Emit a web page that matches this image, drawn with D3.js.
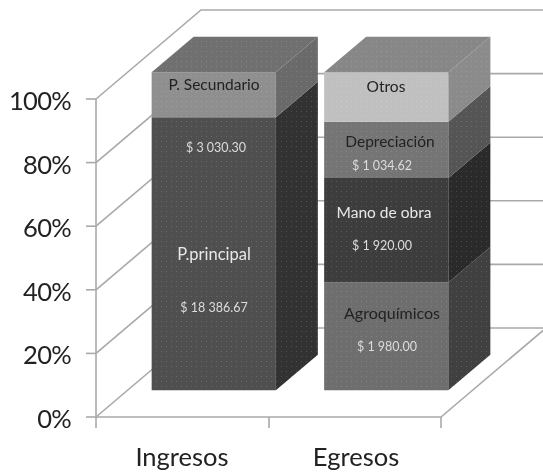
<!DOCTYPE html>
<html>
<head>
<meta charset="utf-8">
<script src="https://cdn.jsdelivr.net/npm/d3@7"></script>
<style>
html, body { margin: 0; padding: 0; background: #fff; }
svg { display: block; }
text { font-family: Lato, "Open Sans", sans-serif; }
</style>
</head>
<body>
<div id="container"></div>
<script>
const width = 543;
const height = 474;

// values
const categories = ["Ingresos", "Egresos"];
const segments = ["P.principal", "P. Secundario", "Agroquímicos", "Mano de obra", "Depreciación", "Otros"];
const ingresos = [18386.67, 3030.30, 0, 0, 0, 0];
const egresos = [0, 0, 1980.00, 1920.00, 1034.62, 910];
const yTicks = [0, 0.2, 0.4, 0.6, 0.8, 1];

// grey of each segment: front, side
const frontColors = ["#4f4f4f", "#8f8f8f", "#6e6e6e", "#3e3e3e", "#757575", "#c0c0c0"];
const sideColors = ["#333333", "#6a6a6a", "#3f3f3f", "#2b2b2b", "#555555", "#8b8b8b"];
const topColors = ["#6f6f6f", "#878787"];

// name and amount labels, placed in pixels
const nameLabels = [
	{ text: "P. Secundario", x: 214, y: 90, fill: "#222", size: 15.5 },
	{ text: "P.principal", x: 214, y: 260, fill: "#e8e8e8", size: 16.5 },
	{ text: "Otros", x: 386, y: 92, fill: "#222", size: 15.5 },
	{ text: "Depreciación", x: 390, y: 147, fill: "#222", size: 15.5 },
	{ text: "Mano de obra", x: 384, y: 218, fill: "#e8e8e8", size: 15.5 },
	{ text: "Agroquímicos", x: 392, y: 319, fill: "#222", size: 16 }
];
const amountLabels = [
	{ text: "$ 3 030.30", x: 216, y: 152 },
	{ text: "$ 18 386.67", x: 214, y: 312 },
	{ text: "$ 1 034.62", x: 382, y: 170 },
	{ text: "$ 1 920.00", x: 382, y: 250 },
	{ text: "$ 1 980.00", x: 387, y: 351 }
];

const table = categories.map(function(c, i) {
	const row = { category: c };
	segments.forEach(function(s, j) {
		row[s] = (i === 0 ? ingresos : egresos)[j];
	});
	return row;
});

const stacked = d3.stack().keys(segments).offset(d3.stackOffsetExpand)(table);

const x = d3.scaleBand().domain(categories).range([96, 441]).paddingInner(0.28).paddingOuter(0.14);
const y = d3.scaleLinear().domain([0, 1]).range([417, 99]);

// depth into the box: 0 = front edge, 1 = back wall
const depthX = d3.scaleLinear().domain([0, 1]).range([0, 105]);
const depthY = d3.scaleLinear().domain([0, 1]).range([0, -89]);
const barFront = 0.3;
const barBack = 0.7;

function pt(px, value, depth) {
	return [px + depthX(depth), y(value) + depthY(depth)];
}
function poly(points) {
	return "M" + points.map(function(p) { return p.join(","); }).join("L") + "Z";
}

const svg = d3.select("#container")
	.append("svg")
	.attr("width", width)
	.attr("height", height);

// the reference is a soft scan with a fine dot texture on the bars
const defs = svg.append("defs");
defs.append("filter").attr("id", "soft")
	.attr("x", 0).attr("y", 0).attr("width", "100%").attr("height", "100%")
	.append("feGaussianBlur").attr("stdDeviation", 0.4);
const dots = defs.append("pattern").attr("id", "dots")
	.attr("width", 5).attr("height", 5)
	.attr("patternUnits", "userSpaceOnUse");
dots.append("rect").attr("x", 1).attr("y", 1).attr("width", 1).attr("height", 1)
	.attr("fill", "#fff").attr("opacity", 0.14);

const root = svg.append("g").attr("filter", "url(#soft)");
root.append("rect").attr("width", width).attr("height", height).attr("fill", "#fff");

const gridColor = "#a9a9a9";
const walls = root.append("g")
	.attr("fill", "none")
	.attr("stroke", gridColor)
	.attr("stroke-width", 1.6);

// left wall, back wall
yTicks.forEach(function(t) {
	const a = pt(96, t, 0);
	const b = pt(96, t, 1);
	walls.append("path").attr("d", d3.line()([a, b, [width + 2, b[1]]]));
	walls.append("path").attr("d", d3.line()([[86, a[1]], a]));
});
walls.append("path").attr("d", d3.line()([pt(96, 1, 0), pt(96, 0, 0)]));

// floor
walls.append("path").attr("d", d3.line()([pt(96, 0, 0), pt(441, 0, 0), pt(441, 0, 1)]));
[96, 269, 441].forEach(function(px) {
	walls.append("path").attr("d", d3.line()([[px, y(0)], [px, y(0) + 11]]));
});

// bars, bottom segment first so the upper side faces sit on top
const bars = root.append("g");
function face(points, color) {
	bars.append("path").attr("d", poly(points)).attr("fill", color);
	bars.append("path").attr("d", poly(points)).attr("fill", "url(#dots)");
}
stacked.forEach(function(layer, s) {
	layer.forEach(function(d, c) {
		if (d[1] - d[0] === 0) return;
		const cat = categories[c];
		const x0 = x(cat);
		const x1 = x0 + x.bandwidth();
		face([pt(x0, d[1], barFront), pt(x1, d[1], barFront), pt(x1, d[0], barFront), pt(x0, d[0], barFront)], frontColors[s]);
		face([pt(x1, d[1], barFront), pt(x1, d[1], barBack), pt(x1, d[0], barBack), pt(x1, d[0], barFront)], sideColors[s]);
	});
});
categories.forEach(function(cat, c) {
	const x0 = x(cat);
	const x1 = x0 + x.bandwidth();
	face([pt(x0, 1, barFront), pt(x1, 1, barFront), pt(x1, 1, barBack), pt(x0, 1, barBack)], topColors[c]);
});

// axis labels
root.append("g").selectAll("text")
	.data(yTicks)
	.enter().append("text")
	.attr("x", 71)
	.attr("y", function(d) { return y(d) + 11; })
	.attr("text-anchor", "end")
	.attr("font-size", 25.5)
	.attr("letter-spacing", -0.7)
	.attr("fill", "#222")
	.text(d3.format(".0%"));

root.append("g").selectAll("text")
	.data(categories)
	.enter().append("text")
	.attr("x", function(d, i) { return i === 0 ? 182 : 356; })
	.attr("y", 466)
	.attr("text-anchor", "middle")
	.attr("font-size", 25.5)
	.attr("fill", "#222")
	.text(function(d) { return d; });

// labels on the bars
root.append("g").selectAll("text")
	.data(nameLabels)
	.enter().append("text")
	.attr("x", function(d) { return d.x; })
	.attr("y", function(d) { return d.y; })
	.attr("text-anchor", "middle")
	.attr("font-size", function(d) { return d.size; })
	.attr("fill", function(d) { return d.fill; })
	.text(function(d) { return d.text; });

root.append("g").selectAll("text")
	.data(amountLabels)
	.enter().append("text")
	.attr("x", function(d) { return d.x; })
	.attr("y", function(d) { return d.y; })
	.attr("text-anchor", "middle")
	.attr("font-size", 12.5)
	.attr("fill", "#dcdcdc")
	.text(function(d) { return d.text; });
</script>
</body>
</html>
